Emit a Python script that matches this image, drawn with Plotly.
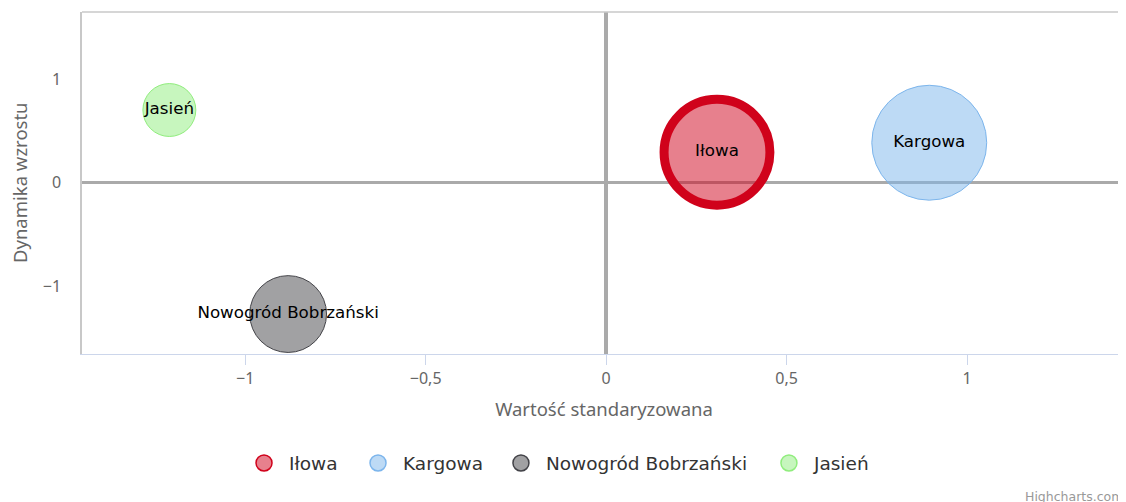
import plotly.graph_objects as go

# Data
names = ["Iłowa", "Kargowa", "Nowogród Bobrzański", "Jasień"]
x_vals = [0.307, 0.895, -0.881, -1.210]          # Wartość standaryzowana
y_vals = [0.294, 0.386, -1.269, 0.702]           # Dynamika wzrostu
z_vals = [1.12, 1.32, 0.59, 0.28]                # bubble size value

fill_colors = ["rgba(208,2,27,0.5)", "rgba(124,181,236,0.5)",
               "rgba(67,67,72,0.5)", "rgba(144,237,125,0.5)"]
line_colors = ["#d0021b", "#7cb5ec", "#434348", "#90ed7d"]
line_widths = [9, 1, 1, 1]

x_ticks = [-1, -0.5, 0, 0.5, 1]
y_ticks = [-1, 0, 1]

legend_ids = ["legend", "legend2", "legend3", "legend4"]
legend_x = [0.1504, 0.2596, 0.3965, 0.6532]

fig = go.Figure()

for i, n in enumerate(names):
    fig.add_trace(go.Scatter(
        x=[x_vals[i]], y=[y_vals[i]],
        mode="markers+text",
        text=[n],
        textposition="middle center",
        textfont=dict(family="DejaVu Sans", size=16.7, color="#000000"),
        marker=dict(size=[z_vals[i]], sizemode="area", sizeref=2e-4,
                    opacity=1, color=fill_colors[i],
                    line=dict(color=line_colors[i], width=line_widths[i])),
        name=n, legendgroup=n, showlegend=False, cliponaxis=False,
        hovertemplate=n + "<br>x: %{x}<br>y: %{y}<extra></extra>",
    ))

# legend entries (constant symbol style like the reference)
for i, n in enumerate(names):
    fig.add_trace(go.Scatter(
        x=[None], y=[None], mode="markers", name=n, legendgroup=n,
        legend=legend_ids[i],
        marker=dict(size=17, opacity=1, color=fill_colors[i],
                    line=dict(color=line_colors[i], width=1.5)),
    ))

axis_font = dict(family="Noto Sans", size=16, color="#666666")
title_font = dict(family="Noto Sans", size=18.5, color="#666666")

fig.update_xaxes(
    range=[-1.452, 1.440],
    tickvals=x_ticks,
    showgrid=False,
    zeroline=True, zerolinecolor="#aaaaaa", zerolinewidth=3.5,
    showline=True, linecolor="#ccd6eb", linewidth=1,
    ticks="outside", ticklen=10, tickcolor="#ccd6eb", tickwidth=1,
    tickfont=axis_font,
    title=dict(text="Wartość standaryzowana", font=title_font, standoff=14),
    automargin=False,
)
fig.update_yaxes(
    range=[-1.655, 1.649],
    tickvals=y_ticks,
    showgrid=False,
    zeroline=True, zerolinecolor="#aaaaaa", zerolinewidth=3,
    showline=True, linecolor="#c8c8c8", linewidth=1.5,
    ticks="", ticklabelstandoff=16,
    tickfont=axis_font,
    automargin=False,
)

# y-axis title
fig.add_annotation(text="Dynamika wzrostu", xref="paper", yref="paper",
                   x=-0.0600, y=0.501, xanchor="center", yanchor="middle",
                   textangle=-90, showarrow=False, font=title_font)

fig.add_shape(type="line", xref="paper", yref="paper", x0=0, x1=1, y0=1, y1=1,
              line=dict(color="#c8c8c8", width=1.5), layer="above")

fig.add_annotation(text="Highcharts.com", xref="paper", yref="paper",
                   x=0.9013, y=-0.416, xanchor="left", yanchor="middle",
                   showarrow=False,
                   font=dict(family="DejaVu Sans", size=12.5, color="#999999"))

legend_common = dict(orientation="h", xanchor="left", y=-0.32, yanchor="middle",
                     font=dict(family="DejaVu Sans", size=18.5, color="#333333"),
                     bgcolor="rgba(0,0,0,0)", itemwidth=40)

fig.update_layout(
    width=1118, height=494,
    margin=dict(l=74, r=0, t=4, b=148),
    paper_bgcolor="white", plot_bgcolor="white",
    separators=", ",
    showlegend=True,
    legend=dict(x=legend_x[0], **legend_common),
    legend2=dict(x=legend_x[1], **legend_common),
    legend3=dict(x=legend_x[2], **legend_common),
    legend4=dict(x=legend_x[3], **legend_common),
)

fig.write_html("out.html")
